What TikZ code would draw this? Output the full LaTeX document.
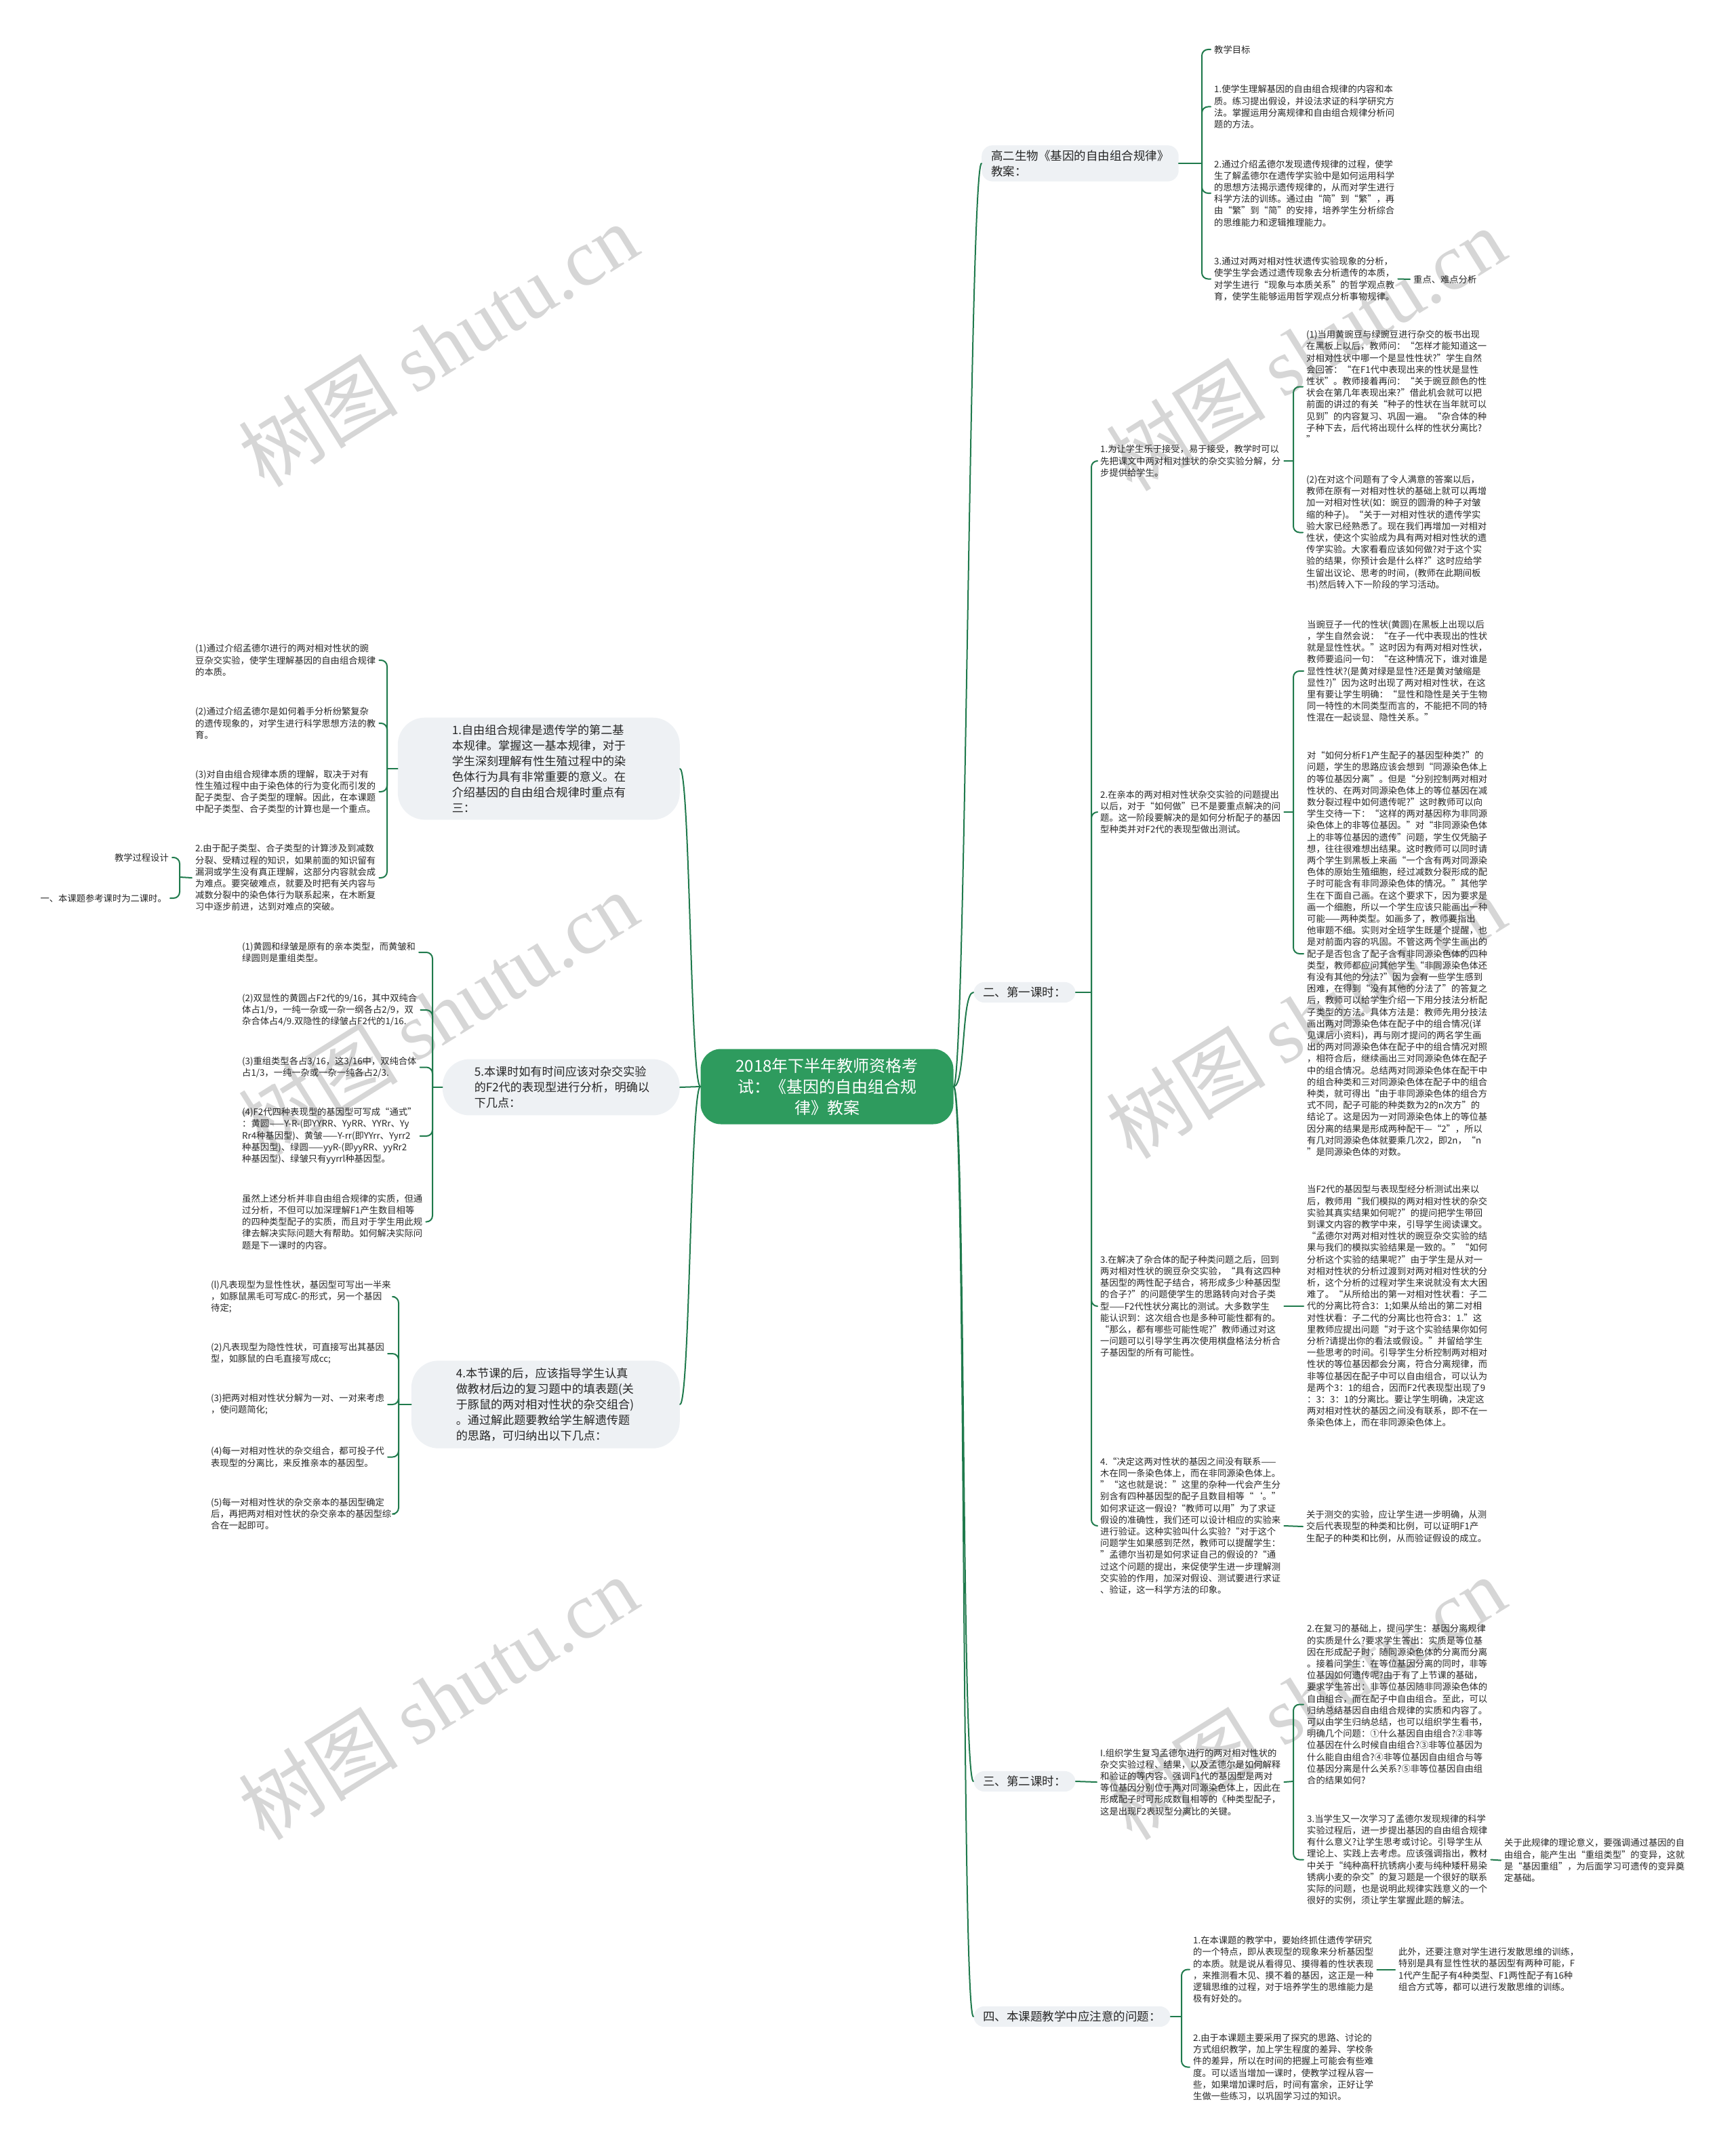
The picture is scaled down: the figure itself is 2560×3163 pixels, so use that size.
\documentclass[tikz,border=0pt]{standalone}
\usepackage{fontspec}
\setmainfont{Noto Sans CJK SC}
\newfontfamily\wmserif{Liberation Serif}

\definecolor{linkgreen}{HTML}{1F7A4C}
\definecolor{rootgreen}{HTML}{2E9B5E}
\definecolor{pillgray}{HTML}{EEF1F4}
\definecolor{wmgray}{HTML}{D6D6D6}

\tikzset{
  leaf/.style={font=\fontsize{13.3}{17.2}\selectfont, align=left, inner xsep=5, inner ysep=2, anchor=west, text=black!85},
  leafr/.style={leaf, anchor=east},
  pill/.style={fill=pillgray, rounded corners=40, font=\fontsize{17.1}{23}\selectfont, align=left, inner ysep=10.5, anchor=east, text=black!85},
  pillr/.style={fill=pillgray, rounded corners=16, font=\fontsize{17.5}{23}\selectfont, align=left, inner xsep=14, inner ysep=7, anchor=west, text=black!85},
  root/.style={fill=rootgreen, text=white, rounded corners=30, font=\fontsize{24}{31}\selectfont, align=center, minimum width=373, minimum height=111, inner sep=0},
  link/.style={draw=linkgreen, line width=2},
  brace/.style={link, rounded corners=9},
  wm/.style={text=wmgray, rotate=32, font=\fontsize{118}{118}\selectfont}
}

\begin{document}
\begin{tikzpicture}[x=1pt, y=-1pt, line cap=round, line join=round]
\useasboundingbox (0,0) rectangle (2560,3163);

% Watermarks
\foreach \wx/\wy in {646/509, 1926/515, 646/1495, 1926/1500, 646/2505, 1926/2505}
  \node[wm] at (\wx,\wy) {树图 {\wmserif shutu.cn}};

% Root
\node[root] (root) at (1220,1603) {2018年下半年教师资格考\\试：《基因的自由组合规\\律》教案};

% Right main branches
\node[pillr] (b0) at (1448,241) {高二生物《基因的自由组合规律》\\教案：};
\node[pillr] (b1) at (1436,1464) {二、第一课时：};
\node[pillr] (b2) at (1436,2628) {三、第二课时：};
\node[pillr] (b3) at (1436,2975) {四、本课题教学中应注意的问题：};
\foreach \b in {b0,b1,b2,b3}
  \draw[link] (root.east) .. controls +(18,0) and +(-18,0) .. (\b.west);

% Left main branches
\node[pill, text width=256, inner xsep=80] (a1) at (1003,1134) {1.自由组合规律是遗传学的第二基\\本规律。掌握这一基本规律，对于\\学生深刻理解有性生殖过程中的染\\色体行为具有非常重要的意义。在\\介绍基因的自由组合规律时重点有\\三：};
\node[pill, text width=256, inner xsep=47] (a5) at (1003,1604) {5.本课时如有时间应该对杂交实验\\的F2代的表现型进行分析，明确以\\下几点：};
\node[pill, text width=264, inner xsep=66] (a4) at (1003,2072) {4.本节课的后，应该指导学生认真\\做教材后边的复习题中的填表题(关\\于豚鼠的两对相对性状的杂交组合)\\。通过解此题要教给学生解遗传题\\的思路，可归纳出以下几点：};
\foreach \a in {a1,a5,a4}
  \draw[link] (root.west) .. controls +(-15,0) and +(15,0) .. (\a.east);

% Teaching goals
\coordinate (jb0) at (1773,241);
\draw[link] (b0.east) -- (jb0);
\node[leaf] (t0) at (1786,73) {教学目标};
\node[leaf] (t1) at (1786,157.5) {1.使学生理解基因的自由组合规律的内容和本\\质。练习提出假设，并设法求证的科学研究方\\法。掌握运用分离规律和自由组合规律分析问\\题的方法。};
\node[leaf] (t2) at (1786,285) {2.通过介绍孟德尔发现遗传规律的过程，使学\\生了解孟德尔在遗传学实验中是如何运用科学\\的思想方法揭示遗传规律的，从而对学生进行\\科学方法的训练。通过由“简”到“繁”，再\\由“繁”到“简”的安排，培养学生分析综合\\的思维能力和逻辑推理能力。};
\node[leaf] (t3) at (1786,411.5) {3.通过对两对相对性状遗传实验现象的分析，\\使学生学会透过遗传现象去分析遗传的本质，\\对学生进行“现象与本质关系”的哲学观点教\\育，使学生能够运用哲学观点分析事物规律。};
\foreach \c in {t0,t1,t2,t3}
  \draw[brace] (jb0) |- (\c.west);
\node[leaf] (t31) at (2080,412) {重点、难点分析};
\draw[link] (t3.east) -- (t31.west);

% First lesson
\coordinate (jb1) at (1610,1464);
\draw[link] (b1.east) -- (jb1);
\node[leaf] (c1) at (1618,680) {1.为让学生乐于接受，易于接受，教学时可以\\先把课文中两对相对性状的杂交实验分解，分\\步提供给学生。};
\node[leaf] (c2) at (1618,1198) {2.在亲本的两对相对性状杂交实验的问题提出\\以后，对于“如何做”已不是要重点解决的问\\题。这一阶段要解决的是如何分析配子的基因\\型种类并对F2代的表现型做出测试。};
\node[leaf] (c3) at (1618,1927) {3.在解决了杂合体的配子种类问题之后，回到\\两对相对性状的豌豆杂交实验，“具有这四种\\基因型的两性配子结合，将形成多少种基因型\\的合子?”的问题使学生的思路转向对合子类\\型——F2代性状分离比的测试。大多数学生\\能认识到：这次组合也是多种可能性都有的。\\“那么，都有哪些可能性呢?”教师通过对这\\一问题可以引导学生再次使用棋盘格法分析合\\子基因型的所有可能性。};
\node[leaf] (c4) at (1618,2251) {4.“决定这两对性状的基因之间没有联系——\\木在同一条染色体上，而在非同源染色体上。\\”“这也就是说：”这里的杂种一代会产生分\\别含有四种基因型的配子且数目相等“‘。”\\如何求证这一假设?“教师可以用”为了求证\\假设的准确性，我们还可以设计相应的实验来\\进行验证。这种实验叫什么实验?“对于这个\\问题学生如果感到茫然，教师可以提醒学生：\\”孟德尔当初是如何求证自己的假设的?“通\\过这个问题的提出，来促使学生进一步理解测\\交实验的作用，加深对假设、测试要进行求证\\、验证，这一科学方法的印象。};
\foreach \c in {c1,c2,c3,c4}
  \draw[brace] (jb1) |- (\c.west);

\coordinate (jc1) at (1908,680);
\draw[link] (c1.east) -- (jc1);
\node[leaf] (c11) at (1922,570.5) {(1)当用黄豌豆与绿豌豆进行杂交的板书出现\\在黑板上以后，教师问：“怎样才能知道这一\\对相对性状中哪一个是显性性状?”学生自然\\会回答：“在F1代中表现出来的性状是显性\\性状”。教师接着再问：“关于豌豆颜色的性\\状会在第几年表现出来?”借此机会就可以把\\前面的讲过的有关“种子的性状在当年就可以\\见到”的内容复习、巩固一遍。“杂合体的种\\子种下去，后代将出现什么样的性状分离比?\\”};
\node[leaf] (c12) at (1922,785.5) {(2)在对这个问题有了令人满意的答案以后，\\教师在原有一对相对性状的基础上就可以再增\\加一对相对性状(如：豌豆的圆滑的种子对皱\\缩的种子)。“关于一对相对性状的遗传学实\\验大家已经熟悉了。现在我们再增加一对相对\\性状，使这个实验成为具有两对相对性状的遗\\传学实验。大家看看应该如何做?对于这个实\\验的结果，你预计会是什么样?”这时应给学\\生留出议论、思考的时间，(教师在此期间板\\书)然后转入下一阶段的学习活动。};
\foreach \c in {c11,c12}
  \draw[brace] (jc1) |- (\c.west);

\coordinate (jc2) at (1908,1198);
\draw[link] (c2.east) -- (jc2);
\node[leaf] (c21) at (1923,990) {当豌豆子一代的性状(黄圆)在黑板上出现以后\\，学生自然会说：“在子一代中表现出的性状\\就是显性性状。”这时因为有两对相对性状，\\教师要追问一句：“在这种情况下，谁对谁是\\显性性状?(是黄对绿是显性?还是黄对皱缩是\\显性?)”因为这时出现了两对相对性状，在这\\里有要让学生明确：“显性和隐性是关于生物\\同一特性的木同类型而言的，不能把不同的特\\性混在一起谈显、隐性关系。”};
\node[leaf] (c22) at (1923,1407) {对“如何分析F1产生配子的基因型种类?”的\\问题，学生的思路应该会想到“同源染色体上\\的等位基因分离”。但是“分别控制两对相对\\性状的、在两对同源染色体上的等位基因在减\\数分裂过程中如何遗传呢?”这时教师可以向\\学生交待一下：“这样的两对基因称为非同源\\染色体上的非等位基因。”对“非同源染色体\\上的非等位基因的遗传”问题，学生仅凭脑子\\想，往往很难想出结果。这时教师可以同时请\\两个学生到黑板上来画“一个含有两对同源染\\色体的原始生殖细胞，经过减数分裂形成的配\\子时可能含有非同源染色体的情况。”其他学\\生在下面自己画。在这个要求下，因为要求是\\画一个细胞，所以一个学生应该只能画出一种\\可能——两种类型。如画多了，教师要指出\\他审题不细。实则对全班学生既是个提醒，也\\是对前面内容的巩固。不管这两个学生画出的\\配子是否包含了配子含有非同源染色体的四种\\类型，教师都应问其他学生“非同源染色体还\\有没有其他的分法?”因为会有一些学生感到\\困难，在得到“没有其他的分法了”的答复之\\后，教师可以给学生介绍一下用分技法分析配\\子类型的方法。具体方法是：教师先用分技法\\画出两对同源染色体在配子中的组合情况(详\\见课后小资料)，再与刚才提问的两名学生画\\出的两对同源染色体在配子中的组合情况对照\\，相符合后，继续画出三对同源染色体在配子\\中的组合情况。总结两对同源染色体在配干中\\的组合种类和三对同源染色体在配子中的组合\\种类，就可得出“由于非同源染色体的组合方\\式不同，配子可能的种类数为2的n次方”的\\结论了。这是因为一对同源染色体上的等位基\\因分离的结果是形成两种配干—“2”，所以\\有几对同源染色体就要乘几次2，即2n，“n\\”是同源染色体的对数。};
\foreach \c in {c21,c22}
  \draw[brace] (jc2) |- (\c.west);

\node[leaf] (c31) at (1923,1927) {当F2代的基因型与表现型经分析测试出来以\\后，教师用“我们模拟的两对相对性状的杂交\\实验其真实结果如何呢?”的提问把学生带回\\到课文内容的教学中来，引导学生阅读课文。\\“孟德尔对两对相对性状的豌豆杂交实验的结\\果与我们的模拟实验结果是一致的。”“如何\\分析这个实验的结果呢?”由于学生是从对一\\对相对性状的分析过渡到对两对相对性状的分\\析，这个分析的过程对学生来说就没有太大困\\难了。“从所给出的第一对相对性状看：子二\\代的分离比符合3：1;如果从给出的第二对相\\对性状看：子二代的分离比也符合3：1.”这\\里教师应提出问题“对于这个实验结果你如何\\分析?请提出你的看法或假设。”并留给学生\\一些思考的时间。引导学生分析控制两对相对\\性状的等位基因都会分离，符合分离规律，而\\非等位基因在配子中可以自由组合，可以认为\\是两个3：1的组合，因而F2代表现型出现了9\\：3：3：1的分离比。要让学生明确，决定这\\两对相对性状的基因之间没有联系，即不在一\\条染色体上，而在非同源染色体上。};
\draw[link] (c3.east) -- (c31.west);
\node[leaf] (c41) at (1922,2252) {关于测交的实验，应让学生进一步明确，从测\\交后代表现型的种类和比例，可以证明F1产\\生配子的种类和比例，从而验证假设的成立。};
\draw[link] (c4.east) -- (c41.west);

% Second lesson
\node[leaf] (d1) at (1618,2629) {I.组织学生复习孟德尔进行的两对相对性状的\\杂交实验过程、结果，以及孟德尔是如何解释\\和验证的等内容。强调F1代的基因型是两对\\等位基因分别位于两对同源染色体上，因此在\\形成配子时可形成数目相等的《种类型配子，\\这是出现F2表现型分离比的关键。};
\draw[link] (b2.east) -- (d1.west);
\coordinate (jd1) at (1908,2628);
\draw[link] (d1.east) -- (jd1);
\node[leaf] (d11) at (1923,2514.5) {2.在复习的基础上，提问学生：基因分离规律\\的实质是什么?要求学生答出：实质是等位基\\因在形成配子时，随同源染色体的分离而分离\\。接着问学生：在等位基因分离的同时，非等\\位基因如何遗传呢?由于有了上节课的基础，\\要求学生答出：非等位基因随非同源染色体的\\自由组合，而在配子中自由组合。至此，可以\\归纳总结基因自由组合规律的实质和内容了。\\可以由学生归纳总结，也可以组织学生看书，\\明确几个问题：①什么基因自由组合?②非等\\位基因在什么时候自由组合?③非等位基因为\\什么能自由组合?④非等位基因自由组合与等\\位基因分离是什么关系?⑤非等位基因自由组\\合的结果如何?};
\node[leaf] (d12) at (1923,2743.5) {3.当学生又一次学习了孟德尔发现规律的科学\\实验过程后，进一步提出基因的自由组合规律\\有什么意义?让学生思考或讨论。引导学生从\\理论上、实践上去考虑。应该强调指出，教材\\中关于“纯种高秆抗锈病小麦与纯种矮秆易染\\锈病小麦的杂交”的复习题是一个很好的联系\\实际的问题，也是说明此规律实践意义的一个\\很好的实例，须让学生掌握此题的解法。};
\foreach \c in {d11,d12}
  \draw[brace] (jd1) |- (\c.west);
\node[leaf] (d121) at (2214,2744.5) {关于此规律的理论意义，要强调通过基因的自\\由组合，能产生出“重组类型”的变异，这就\\是“基因重组”，为后面学习可遗传的变异奠\\定基础。};
\draw[link] (d12.east) -- (d121.west);

% Points for attention
\coordinate (jb3) at (1743,2975);
\draw[link] (b3.east) -- (jb3);
\node[leaf] (e1) at (1755,2905.5) {1.在本课题的教学中，要始终抓住遗传学研究\\的一个特点，即从表现型的现象来分析基因型\\的本质。就是说从看得见、摸得着的性状表现\\，来推测看木见、摸不着的基因，这正是一种\\逻辑思维的过程，对于培养学生的思维能力是\\极有好处的。};
\node[leaf] (e2) at (1755,3049.5) {2.由于本课题主要采用了探究的思路、讨论的\\方式组织教学，加上学生程度的差异、学校条\\件的差异，所以在时间的把握上可能会有些难\\度。可以适当增加一课时，使教学过程从容一\\些，如果增加课时后，时间有富余，正好让学\\生做一些练习，以巩固学习过的知识。};
\foreach \c in {e1,e2}
  \draw[brace] (jb3) |- (\c.west);
\node[leaf] (e11) at (2058,2905.5) {此外，还要注意对学生进行发散思维的训练，\\特别是具有显性性状的基因型有两种可能，F\\1代产生配子有4种类型、F1两性配子有16种\\组合方式等，都可以进行发散思维的训练。};
\draw[link] (e1.east) -- (e11.west);

% Left: key points
\coordinate (ja1) at (571,1134);
\draw[link] (a1.west) -- (ja1);
\node[leaf] (l11) at (283,974) {(1)通过介绍孟德尔进行的两对相对性状的豌\\豆杂交实验，使学生理解基因的自由组合规律\\的本质。};
\node[leaf] (l12) at (283,1067) {(2)通过介绍孟德尔是如何着手分析纷繁复杂\\的遗传现象的，对学生进行科学思想方法的教\\育。};
\node[leaf] (l13) at (283,1168) {(3)对自由组合规律本质的理解，取决于对有\\性生殖过程中由于染色体的行为变化而引发的\\配子类型、合子类型的理解。因此，在本课题\\中配子类型、合子类型的计算也是一个重点。};
\node[leaf] (l14) at (283,1295) {2.由于配子类型、合子类型的计算涉及到减数\\分裂、受精过程的知识，如果前面的知识留有\\漏洞或学生没有真正理解，这部分内容就会成\\为难点。要突破难点，就要及时把有关内容与\\减数分裂中的染色体行为联系起来，在木断复\\习中逐步前进，达到对难点的突破。};
\foreach \c in {l11,l12,l13,l14}
  \draw[brace] (ja1) |- (\c.east);
\coordinate (jl14) at (265,1294);
\draw[link] (l14.west) -- (jl14);
\node[leafr] (k1) at (254,1265) {教学过程设计};
\node[leafr] (k2) at (251,1325) {一、本课题参考课时为二课时。};
\foreach \c in {k1,k2}
  \draw[brace] (jl14) |- (\c.east);

% Left: F2 analysis
\coordinate (ja5) at (638,1604);
\draw[link] (a5.west) -- (ja5);
\node[leaf] (m1) at (352,1405) {(1)黄圆和绿皱是原有的亲本类型，而黄皱和\\绿圆则是重组类型。};
\node[leaf] (m2) at (352,1490) {(2)双显性的黄圆占F2代的9/16，其中双纯合\\体占1/9，一纯一杂或一杂一纲各占2/9，双\\杂合体占4/9.双隐性的绿皱占F2代的1/16.};
\node[leaf] (m3) at (352,1574.5) {(3)重组类型各占3/16，这3/16中，双纯合体\\占1/3，一纯一杂或一杂一纯各占2/3.};
\node[leaf] (m4) at (352,1676) {(4)F2代四种表现型的基因型可写成“通式”\\：黄圆——Y-R-(即YYRR、YyRR、YYRr、Yy\\Rr4种基因型)、黄皱——Y-rr(即YYrr、Yyrr2\\种基因型)、绿圆——yyR-(即yyRR、yyRr2\\种基因型)、绿皱只有yyrrl种基因型。};
\node[leaf] (m5) at (352,1802.5) {虽然上述分析并非自由组合规律的实质，但通\\过分析，不但可以加深理解F1产生数目相等\\的四种类型配子的实质，而且对于学生用此规\\律去解决实际问题大有帮助。如何解决实际问\\题是下一课时的内容。};
\foreach \c in {m1,m2,m3,m4,m5}
  \draw[brace] (ja5) |- (\c.east);

% Left: exercise hints
\coordinate (ja4) at (588,2072);
\draw[link] (a4.west) -- (ja4);
\node[leaf] (n1) at (306,1913) {(l)凡表现型为显性性状，基因型可写出一半来\\，如豚鼠黑毛可写成C-的形式，另一个基因\\待定;};
\node[leaf] (n2) at (306,1997) {(2)凡表现型为隐性性状，可直接写出其基因\\型，如豚鼠的白毛直接写成cc;};
\node[leaf] (n3) at (306,2072) {(3)把两对相对性状分解为一对、一对来考虑\\，使问题简化;};
\node[leaf] (n4) at (306,2149.5) {(4)每一对相对性状的杂交组合，都可投子代\\表现型的分离比，来反推亲本的基因型。};
\node[leaf] (n5) at (306,2233.5) {(5)每一对相对性状的杂交亲本的基因型确定\\后，再把两对相对性状的杂交亲本的基因型综\\合在一起即可。};
\foreach \c in {n1,n2,n3,n4,n5}
  \draw[brace] (ja4) |- (\c.east);

\end{tikzpicture}
\end{document}
